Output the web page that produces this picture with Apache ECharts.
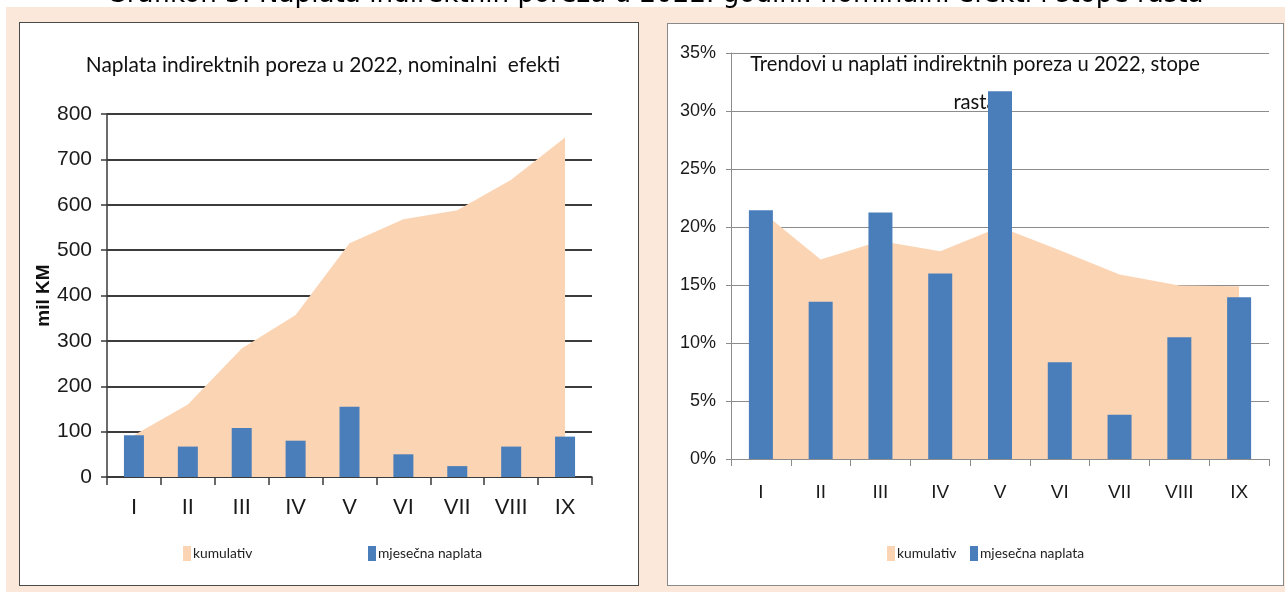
<!DOCTYPE html>
<html>
<head>
<meta charset="utf-8">
<script src="https://cdn.jsdelivr.net/npm/echarts@6/dist/echarts.min.js"></script>
<style>
  html, body { margin: 0; padding: 0; width: 1285px; height: 592px; background: #ffffff; overflow: hidden; }
  .bg { position: absolute; left: 6px; top: 7px; width: 1279px; height: 585px; background: #fce8da; }
  .panel { position: absolute; background: #ffffff; box-sizing: border-box; }
  #p1 { left: 19px; top: 22px; width: 620px; height: 564px; border: 1.5px solid #4a4a4a; }
  #p2 { left: 667px; top: 23px; width: 617px; height: 563px; border: 1.5px solid #8a8a8a; }
  #chart { position: absolute; left: 0; top: 0; width: 1285px; height: 592px; }
</style>
</head>
<body>
<div class="bg"></div>
<div class="panel" id="p1"></div>
<div class="panel" id="p2"></div>
<div id="chart"></div>
<script>
// ---- data ----
var categories = ['I', 'II', 'III', 'IV', 'V', 'VI', 'VII', 'VIII', 'IX'];
var nominalKumulativ = [92, 160, 283, 357, 515, 568, 588, 655, 748];
var nominalMjesecna = [92, 67, 108, 80, 155, 50, 24, 67, 89];
var rastKumulativ = [21.4, 17.2, 18.8, 17.9, 20.0, 18.0, 15.9, 14.95, 14.9];
var rastMjesecna = [21.45, 13.56, 21.26, 16.0, 31.7, 8.35, 3.81, 10.5, 13.94];
var leftTicks = [0, 800, 100];
var rightTicks = [0, 35, 5];
var legendNames = ['kumulativ', 'mjesečna naplata'];
var captionText = 'Grafikon 3: Naplata indirektnih poreza u 2022. godini: nominalni efekti i stope rasta';
var leftTitle = 'Naplata indirektnih poreza u 2022, nominalni  efekti';
var rightTitle1 = 'Trendovi u naplati indirektnih poreza u 2022, stope';
var rightTitle2 = 'rasta';

var SANS = '"Liberation Sans", Arial, sans-serif';
var CAL = 'Lato, "Liberation Sans", sans-serif';
var PEACH = '#fbd4b4';
var BLUE = '#4a7ebb';

function fitSize(text, family, weight, width) {
  var ctx = document.createElement('canvas').getContext('2d');
  ctx.font = weight + ' 100px ' + family;
  return Math.round(1000 * width / ctx.measureText(text).width) / 10;
}
var capSize = fitSize(captionText, '"DejaVu Sans"', 'normal', 1096);
var lTitleSize = fitSize(leftTitle, CAL, 'normal', 474);
var rTitleSize = fitSize(rightTitle1, CAL, 'normal', 450);
var legSize = fitSize(legendNames[1], CAL, 'normal', 104);

var chart = echarts.init(document.getElementById('chart'), null, { renderer: 'canvas' });

function legendItem(left, name) {
  return {
    left: left, top: 541, itemWidth: 8, itemHeight: 15, icon: 'rect',
    data: [{ name: name }],
    textStyle: { fontFamily: CAL, fontSize: legSize, color: '#222', padding: [0, 0, 0, -3] },
    selectedMode: false
  };
}

var option = {
  animation: false,
  graphic: [
    { type: 'text', x: 655, y: -5, style: { text: captionText, fontFamily: '"DejaVu Sans", sans-serif', fontSize: capSize, fill: '#000', align: 'center', verticalAlign: 'middle' } },
    { type: 'text', x: 323, y: 65, style: { text: leftTitle, fontFamily: CAL, fontSize: lTitleSize, fill: '#111', align: 'center', verticalAlign: 'middle' } },
    { type: 'text', x: 975, y: 64, style: { text: rightTitle1, fontFamily: CAL, fontSize: rTitleSize, fill: '#111', align: 'center', verticalAlign: 'middle' } },
    { type: 'text', x: 975, y: 102, style: { text: rightTitle2, fontFamily: CAL, fontSize: rTitleSize, fill: '#111', align: 'center', verticalAlign: 'middle' } }
  ],
  legend: [
    legendItem(178, legendNames[0]),
    legendItem(363, legendNames[1]),
    legendItem(882, legendNames[0] + ' '),
    legendItem(965, legendNames[1] + ' ')
  ],
  grid: [
    { left: 107, top: 114, width: 485, height: 363 },
    { left: 731, top: 53, width: 538, height: 406 }
  ],
  xAxis: [
    {
      type: 'category', gridIndex: 0, data: categories, boundaryGap: true,
      axisLine: { lineStyle: { color: '#3a3a3a', width: 1.5 } },
      axisTick: { show: true, interval: 0, length: 8, lineStyle: { color: '#3a3a3a', width: 1.5 } },
      axisLabel: { interval: 0, margin: 20, fontFamily: SANS, fontSize: 22, color: '#1a1a1a' }
    },
    {
      type: 'category', gridIndex: 1, data: categories, boundaryGap: true,
      axisLine: { lineStyle: { color: '#8c8c8c', width: 1 } },
      axisTick: { show: true, interval: 0, length: 7, lineStyle: { color: '#8c8c8c' } },
      axisLabel: { interval: 0, margin: 24, fontFamily: SANS, fontSize: 19, color: '#1a1a1a' }
    }
  ],
  yAxis: [
    {
      type: 'value', gridIndex: 0, min: leftTicks[0], max: leftTicks[1], interval: leftTicks[2],
      name: 'mil KM', nameLocation: 'middle', nameGap: 40, nameRotate: 90,
      nameTextStyle: { fontFamily: SANS, fontWeight: 'bold', fontSize: 19, color: '#111' },
      axisLine: { show: true, lineStyle: { color: '#3a3a3a', width: 1.5 } },
      axisTick: { show: true, length: 6, lineStyle: { color: '#3a3a3a', width: 1.5 } },
      axisLabel: { margin: 15, fontFamily: SANS, fontSize: 21, color: '#1a1a1a' },
      splitLine: { show: true, lineStyle: { color: '#3c3c3c', width: 1.8 } }
    },
    {
      type: 'value', gridIndex: 1, min: rightTicks[0], max: rightTicks[1], interval: rightTicks[2],
      axisLine: { show: true, lineStyle: { color: '#8c8c8c', width: 1 } },
      axisTick: { show: true, length: 5, lineStyle: { color: '#8c8c8c' } },
      axisLabel: { margin: 15, fontFamily: SANS, fontSize: 18, color: '#1a1a1a', formatter: '{value}%' },
      splitLine: { show: true, lineStyle: { color: '#8c8c8c', width: 1.2 } }
    }
  ],
  series: [
    {
      name: legendNames[0], type: 'line', xAxisIndex: 0, yAxisIndex: 0, data: nominalKumulativ, z: 2,
      symbol: 'none', lineStyle: { width: 0, color: PEACH }, itemStyle: { color: PEACH },
      areaStyle: { color: PEACH, opacity: 1 }
    },
    {
      name: legendNames[1], type: 'bar', xAxisIndex: 0, yAxisIndex: 0, data: nominalMjesecna, z: 5,
      barWidth: 20, itemStyle: { color: BLUE }
    },
    {
      name: legendNames[0] + ' ', type: 'line', xAxisIndex: 1, yAxisIndex: 1, data: rastKumulativ, z: 2,
      symbol: 'none', lineStyle: { width: 0, color: PEACH }, itemStyle: { color: PEACH },
      areaStyle: { color: PEACH, opacity: 1 }
    },
    {
      name: legendNames[1] + ' ', type: 'bar', xAxisIndex: 1, yAxisIndex: 1, data: rastMjesecna, z: 5,
      barWidth: 24, itemStyle: { color: BLUE }
    }
  ]
};
chart.setOption(option);
</script>
</body>
</html>
